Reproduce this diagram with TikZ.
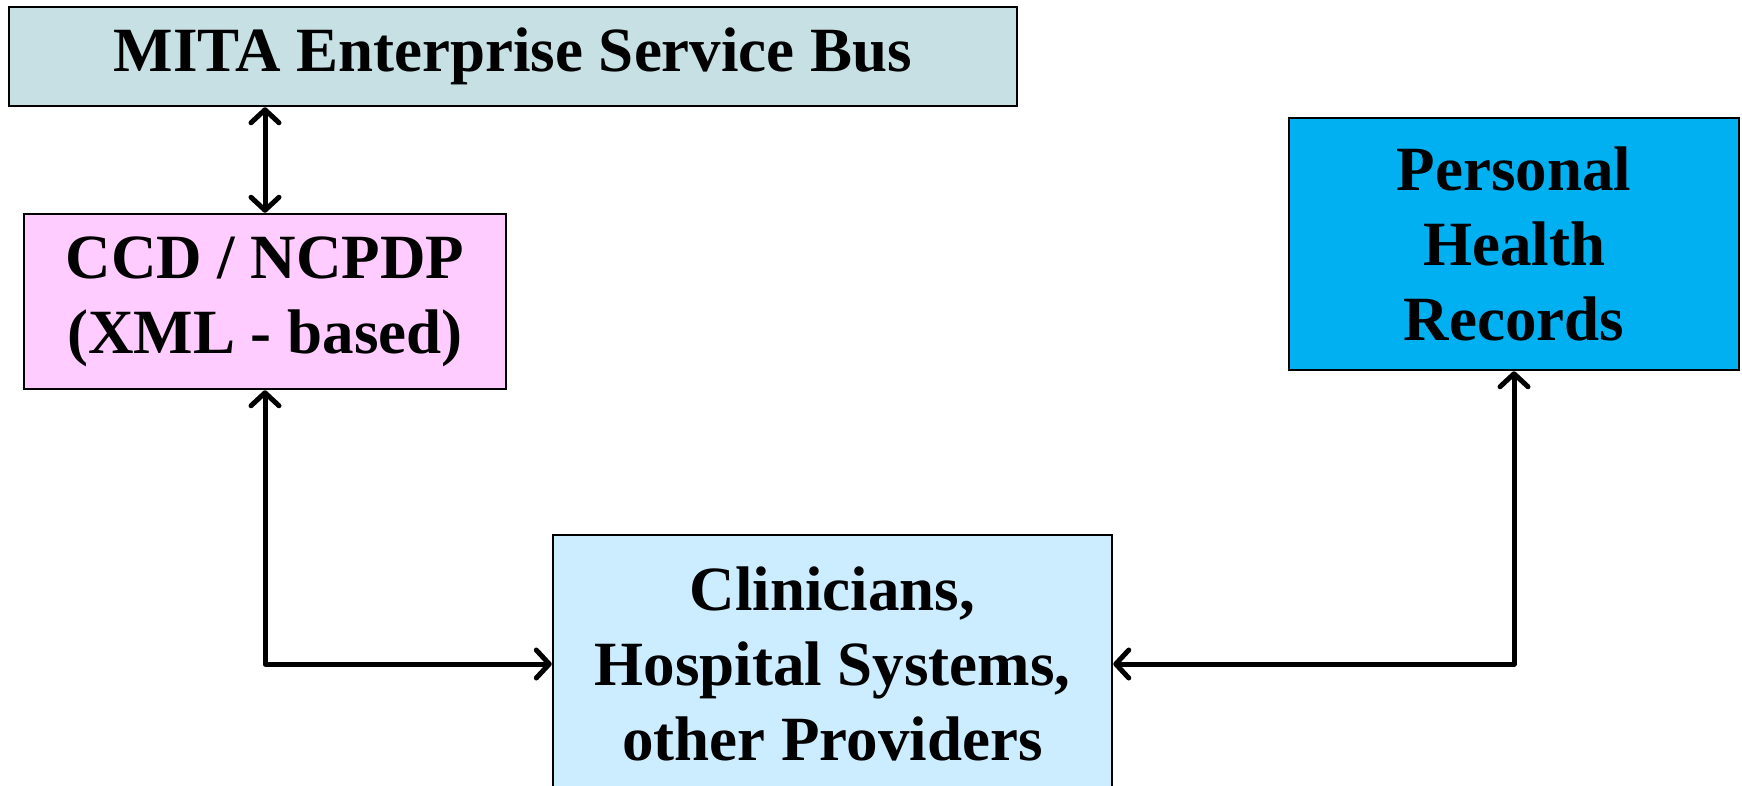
\documentclass[tikz,border=0pt]{standalone}
\usepackage{fontspec}
\setmainfont{Liberation Serif}
\usetikzlibrary{arrows.meta}
\definecolor{mitac}{RGB}{198,224,228}
\definecolor{ccdc}{RGB}{255,204,255}
\definecolor{phrc}{RGB}{0,176,240}
\definecolor{clinc}{RGB}{204,236,255}
\tikzset{
  box/.style={draw=black, line width=2.5pt, align=center, inner sep=0pt,
    font=\fontsize{63}{75}\selectfont\bfseries},
  conn/.style={line width=5pt, line join=round,
    {Straight Barb[length=13pt,width=28pt,line width=5pt,round]}-{Straight Barb[length=13pt,width=28pt,line width=5pt,round]}}
}
\begin{document}
\begin{tikzpicture}[x=1pt,y=-1pt]
\useasboundingbox (0,0) rectangle (1742,785);
\clip (0,0) rectangle (1742,785);
\fill[white] (0,0) rectangle (1742,785);
\node[box, fill=mitac, minimum width=1008, minimum height=99] (mita) at (513,56.5) {MITA Enterprise Service Bus};
\node[box, fill=ccdc, minimum width=482, minimum height=175] (ccd) at (265,301.5) {CCD / NCPDP\\(XML - based)};
\node[box, fill=phrc, minimum width=450, minimum height=252] (phr) at (1514,244) {Personal\\Health\\Records};
\node[box, fill=clinc, minimum width=559, minimum height=258] (clin) at (832.5,664) {Clinicians,\\Hospital Systems,\\other Providers};
\draw[conn] (ccd.north) -- (ccd.north |- mita.south);
\draw[conn] (ccd.south) |- (clin.west);
\draw[conn] (clin.east) -| (phr.south);
\end{tikzpicture}
\end{document}
